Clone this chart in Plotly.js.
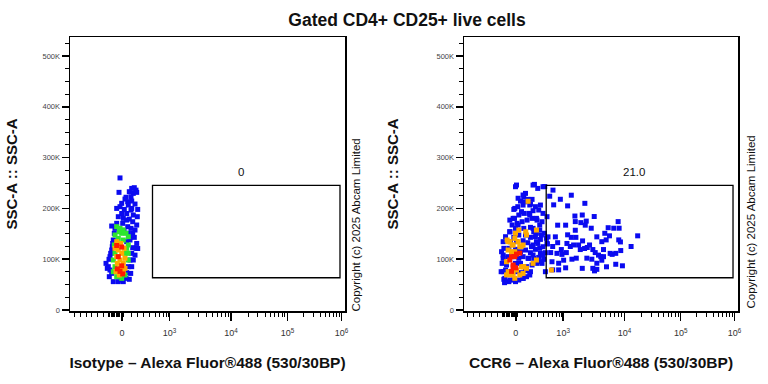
<!DOCTYPE html>
<html>
<head>
<meta charset="utf-8">
<script src="https://cdn.plot.ly/plotly-3.0.1.min.js"></script>
<style>html,body{margin:0;padding:0;background:#fff;}#chart{width:768px;height:384px;}</style>
</head>
<body>
<div id="chart"></div>
<script>
// ---------- Data (x in display channel units of the biexponential axis, y = SSC-A in K) ----------
const chartTitle = 'Gated CD4+ CD25+ live cells';
const leftXTitle = 'Isotype – Alexa Fluor®488 (530/30BP)';
const rightXTitle = 'CCR6 – Alexa Fluor®488 (530/30BP)';
const yTitle = 'SSC-A :: SSC-A';
const copyrightText = 'Copyright (c) 2025 Abcam Limited';
const gateLabels = ['0', '21.0'];
const gateX = [82.5, 270];
const gateY = [63.5, 245.5];
const gateLabelPos = [171, 272];

const xTickVals = [52, 99.5, 161, 217.5, 271.5];
const xTickText = ['0', '10<sup>3</sup>', '10<sup>4</sup>', '10<sup>5</sup>', '10<sup>6</sup>'];
const yTickVals = [0, 100, 200, 300, 400, 500];
const yTickText = ['0', '100K', '200K', '300K', '400K', '500K'];
const linearMinorTicks = [4, 10, 16, 21.7, 27.7, 33.3, 61.7, 67.3, 73.3, 79.3, 85, 89.3, 93.3, 96, 98.3];

const leftBlueX = [50,49,61.7,64.3,66,63.3,59.3,61,66.7,55,57.7,61.7,65,58.3,46.7,50,54.3,61,67.7,51.7,56.7,63.3,67.3,48.3,53.3,59.3,62.7,66.7,41.7,46.7,61,65,62.7,64.3,60,62.7,66,61.7,60,58.3,56.7,56,53.3,48.3,43.3,39.3,37.3,39,40.7,42.3,43.3,44.3,45,38.3,41.7,61.7,56.7,51.7,56,52.7,57.7,54,58.3,60.7,56.7,66.7,65,63.3,61.7,60.7,59.3,51.7,40,36,40,41.7,42.7,67.7];
const leftBlueY = [260,231.6,239.4,240.8,236,229.6,232.9,223,231.6,218.4,213.2,214.5,208.6,206.6,200,203.4,198,196.8,198,190,190,187,183.7,183.7,180.4,179,173.8,167.3,165.3,170.6,160.7,157.4,151,143,137.8,122.7,121.4,111.5,98.4,85.3,73.5,62.3,55.8,55.8,55.8,65.6,82,99.7,111.5,124.6,137.8,150.9,160.7,85.3,72.2,200,177,210,222,170.6,164,157,151,144,134.5,131,108,98.4,85.3,72,60.4,59,78.7,91.8,105,118,131,121];
const leftGreenX = [46.7,50,53.3,56,58.3,45,48.3,53.3,58.3,44.3,45,43.3,45,43.3,46.7,51.7,55,58.3,58.3,56.7,55,51.7,49.3];
const leftGreenY = [164,160.7,157.4,151,144.3,147.6,141,137.8,128,128,111.5,98.4,85.3,75.4,65.6,62.3,68.9,98.4,111.5,121.4,111.5,151,154];
const leftOrangeX = [46.7,50.7,54,48.3,51.7,46.7,50,53.3,47.3,50.7,55,46,53.3,49.3,55,45];
const leftOrangeY = [134.5,131,121.4,118,111.5,105,98.4,91.8,91.8,82,82,75.4,75.4,68.9,101.7,121.4];
const leftRedX = [46.7,51.7,48.3,51.7,47.3,50,52.7];
const leftRedY = [127,124,105,87,81,76,71];

const rightBlueX = [51.7,70.7,74,79.3,61.7,60,64,68.3,56.7,50,54,59.3,66.7,71.7,76.7,46,50.7,55,60,65,69.3,75,79.3,48.3,53.3,58.3,63.3,68.3,73.3,78.3,83.3,46,51.7,60,66.7,70,76,80.7,41.7,50,55,61.7,66.7,71.7,76.7,82.7,39.3,46.7,52.7,59.3,64,69.3,74,79.3,83.3,40,45,51.7,56.7,61.7,66.7,71.7,76.7,81.7,39.3,44,50,55,59.3,65,70,75,80,38.3,42.7,51.7,56.7,62.7,68.3,73.3,78.3,37.3,41.7,46.7,52.7,57.3,61.7,66.7,81.7,40,45,50,55,59.3,62.7,40.7,51.7,
  52.7,69.3,81,59.3,54.3,61,66,57.7,51,66,72.7,49.3,54.3,69.3,76,77.7,72.7,67.7,76,79.3,69.3,64.3,76,39.3,41,46,59.3,66,39.3,37.7,46,72.7,
  89.3,86,96.7,107.7,104,121.3,90,111.3,118.7,122.7,130.7,111.7,117.3,94,102,111.7,121.7,127.7,144.7,150.3,155.7,154.7,141.3,146,133.3,138.3,142.7,155.3,157,174.3,167.7,119,123.7,112.3,107.7,104,103.3,84.3,91.7,94,97.7,83.7,89,106.7,110,115,116.7,121,126,129.3,131.7,135,137.3,140,146.7,152.3,157.3,87,93.3,98.3,102.7,88.3,95,100,108.3,112.7,123.3,128.3,133.3,138.3,102,118.7,129.3,131,133.3,143,152.3,159,95,89,148.7,140];
const rightBlueY = [242.7,247.3,239.4,242.7,229.6,223,217.8,217.8,214.5,198,203.4,206.6,208.6,203.4,206.6,177,180.4,187,190.2,190.2,195.5,196.8,190.2,167.3,170.6,173.8,177,180.4,177,173.8,183.7,154,160.7,160.7,162.7,154,157.4,151,144.3,143,147.6,147.6,143,144.3,139,141,134.5,134.5,134.5,136.4,132.5,128,131,124.6,131,121.4,121.4,119.4,114.8,118,112.8,119.4,111.5,112.8,108.2,105,105,101.7,105,101.7,101.7,103.6,99.7,91.8,88.6,91.8,91.8,85.3,88.6,91.8,91.8,75.4,78.7,75.4,75.4,73.5,77.4,75.4,75.4,60.4,55.8,59,59,62.3,65.6,53.8,55.8,
  246,246,243,226.4,220,213,206.7,193.6,200,187,180.4,180.4,167.3,160.7,167.3,147.7,134.5,124.7,121.4,108.3,108.3,101.7,95,75.4,62.3,59,62.3,68.9,101.7,114.8,154,151,
  236,224,218,226,205,210,207,185,187,175,184,174,172,167,167,157,167,161,162,161,161,174,151,146,144,134.5,138,138,134,146,125,136,123,143,143,148,131,144,144,132.5,119,130,125,125,128,128,119,121,128,119,113,108,105,105,111.5,111.5,117,113,111.5,109.5,113,95,92,98,100,102,102,100,92,98,83,82,82,77,80,85,90,87,79,79,109.5,119];
const rightOrangeX = [46,44.3,47.7,51,42.7,44.3,42.7,47.7,51,56,59.3,62.7,64.3,72.7,55,51.7,87.7,43.3,57.3,48.3,60,62,62.7,51,54.3,49.3,59.3,56,44.3,49.3,52.7,57.7,59.3,69.3,72.7];
const rightOrangeY = [134.5,118,114.8,114.8,95,75.4,69,69,62.4,69,85,82,214,157.4,157.4,151,78.7,137.8,124.6,128,85.3,154,147.7,141,134.5,128,128,124.7,134.5,72,78.7,85,72,91.8,98.4];
const rightRedX = [47.7,52.7,56,46,49.3,52,51,49.3,47.7];
const rightRedY = [105,110,112,98.4,88.6,83,105,85,76];

// ---------- Axis decoration helpers ----------
const decadePos = xTickVals.slice(1);
const minorX = linearMinorTicks.slice();
for (let v = 38.5; v <= 53.6; v += 1.25) minorX.push(v);
for (let d = 0; d < decadePos.length - 1; d++) {
  for (let k = 2; k <= 9; k++) minorX.push(decadePos[d] + Math.log10(k) * (decadePos[d + 1] - decadePos[d]));
}
const minorY = [];
for (let v = 25; v <= 525; v += 25) if (v % 100 !== 0) minorY.push(v);

const FONT = 'Arial, "Liberation Sans", Helvetica, sans-serif';
const colors = {blue: '#0a0af0', green: '#2ee62e', orange: '#ffaa00', red: '#ff1a00'};

function pts(x, y, color, xa, ya) {
  return {type: 'scatter', mode: 'markers', x: x, y: y, xaxis: xa, yaxis: ya,
    marker: {symbol: 'square', size: 5, color: color, line: {width: 0}}, hoverinfo: 'skip'};
}

const data = [
  pts(leftBlueX, leftBlueY, colors.blue, 'x', 'y'),
  pts(leftGreenX, leftGreenY, colors.green, 'x', 'y'),
  pts(leftOrangeX, leftOrangeY, colors.orange, 'x', 'y'),
  pts(leftRedX, leftRedY, colors.red, 'x', 'y'),
  pts(rightBlueX, rightBlueY, colors.blue, 'x2', 'y2'),
  pts(rightOrangeX, rightOrangeY, colors.orange, 'x2', 'y2'),
  pts(rightRedX, rightRedY, colors.red, 'x2', 'y2')
];

function xAxis(domain, anchor, title) {
  return {domain: domain, anchor: anchor, range: [0, 275], fixedrange: true,
    showline: true, linecolor: '#000', linewidth: 1.5, mirror: true, showgrid: false, zeroline: false,
    ticks: 'outside', ticklen: 8, tickwidth: 1.5, tickcolor: '#000',
    tickmode: 'array', tickvals: xTickVals, ticktext: xTickText,
    tickfont: {family: FONT, size: 9, color: '#333'}, ticklabelstandoff: 5,
    minor: {tickmode: 'array', tickvals: minorX, ticks: 'outside', ticklen: 4, tickwidth: 1, tickcolor: '#000', showgrid: false},
    title: {text: '<b>' + title + '</b>', font: {family: FONT, size: 15.5, color: '#111'}, standoff: 20}};
}
function yAxis(anchor, standoff) {
  return {domain: [73 / 384, 347 / 384], anchor: anchor, range: [-2, 537.5], fixedrange: true,
    showline: true, linecolor: '#000', linewidth: 1.5, mirror: true, showgrid: false, zeroline: false,
    ticks: 'outside', ticklen: 7, tickwidth: 1.5, tickcolor: '#000',
    tickmode: 'array', tickvals: yTickVals, ticktext: yTickText,
    tickfont: {family: FONT, size: 7.5, color: '#444'},
    minor: {tickmode: 'array', tickvals: minorY, ticks: 'outside', ticklen: 4, tickwidth: 1, tickcolor: '#000', showgrid: false},
    title: {text: '<b>' + yTitle + '</b>', font: {family: FONT, size: 15, color: '#111'}, standoff: standoff}};
}

const shapes = [
  {type: 'rect', xref: 'x', yref: 'y', x0: gateX[0], x1: gateX[1], y0: gateY[0], y1: gateY[1], line: {color: '#000', width: 1.3}},
  {type: 'rect', xref: 'x2', yref: 'y2', x0: gateX[0], x1: gateX[1], y0: gateY[0], y1: gateY[1], line: {color: '#000', width: 1.3}}
];

const annotations = [
  {xref: 'x', yref: 'y', x: gateLabelPos[0], y: gateLabelPos[1], text: gateLabels[0], showarrow: false, font: {family: FONT, size: 11.5, color: '#111'}},
  {xref: 'x2', yref: 'y2', x: gateLabelPos[0], y: gateLabelPos[1], text: gateLabels[1], showarrow: false, font: {family: FONT, size: 11.5, color: '#111'}},
  {xref: 'paper', yref: 'paper', x: 355 / 768, y: 70 / 384, xanchor: 'center', yanchor: 'bottom', textangle: -90, text: copyrightText, showarrow: false, font: {family: FONT, size: 11.5, color: '#111'}},
  {xref: 'paper', yref: 'paper', x: 750 / 768, y: 73 / 384, xanchor: 'center', yanchor: 'bottom', textangle: -90, text: copyrightText, showarrow: false, font: {family: FONT, size: 11.5, color: '#111'}}
];

const layout = {
  width: 768, height: 384, margin: {l: 0, r: 0, t: 0, b: 0},
  paper_bgcolor: '#fff', plot_bgcolor: '#fff', showlegend: false,
  font: {family: FONT, color: '#111'},
  title: {text: '<b>' + chartTitle + '</b>', font: {family: FONT, size: 17.5, color: '#111'}, x: 407 / 768, xanchor: 'center', y: 1 - 20 / 384, yanchor: 'middle'},
  xaxis: xAxis([70 / 768, 345 / 768], 'y', leftXTitle),
  yaxis: yAxis('x', 21),
  xaxis2: xAxis([464 / 768, 738 / 768], 'y2', rightXTitle),
  yaxis2: yAxis('x2', 34),
  shapes: shapes,
  annotations: annotations
};

Plotly.newPlot('chart', data, layout, {staticPlot: true, displayModeBar: false});
</script>
</body>
</html>
